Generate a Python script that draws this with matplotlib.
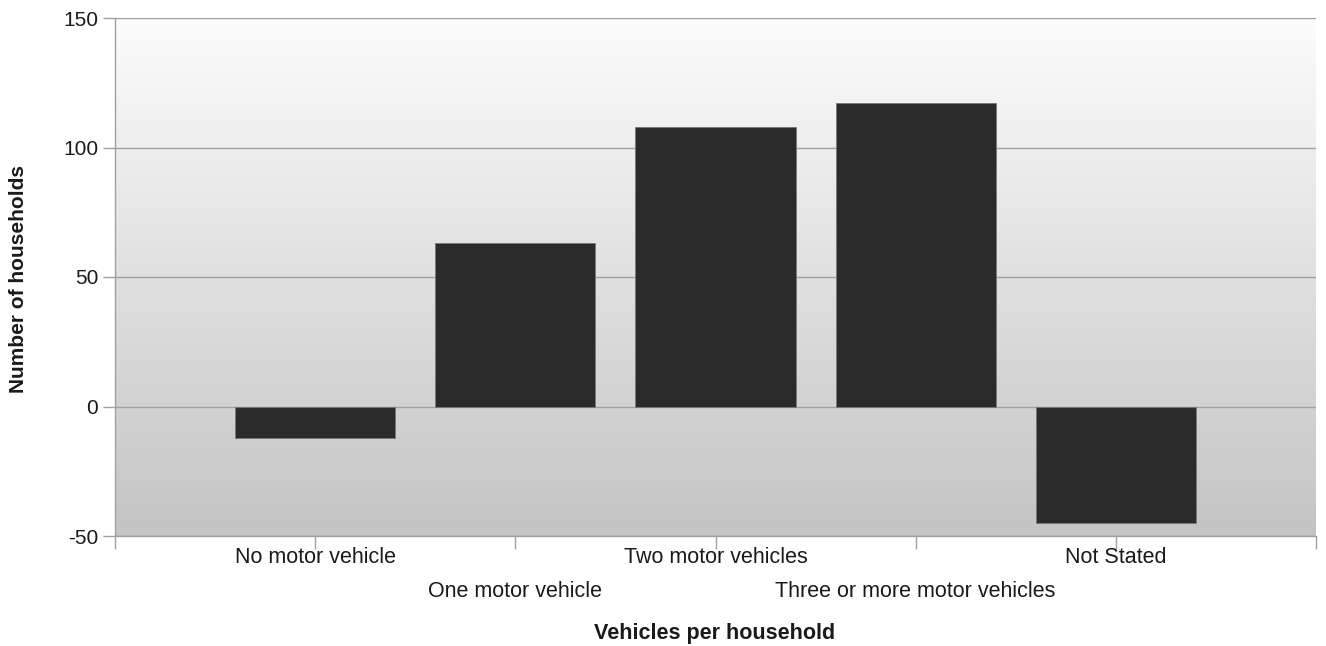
import numpy as np
import matplotlib.pyplot as plt

plt.rcParams['font.family'] = ['Liberation Sans', 'DejaVu Sans']
plt.rcParams['axes.unicode_minus'] = False

# data
categories = ['No motor vehicle', 'One motor vehicle', 'Two motor vehicles',
              'Three or more motor vehicles', 'Not Stated']
households = [-12, 63, 108, 117, -45]

fig = plt.figure(figsize=(13.26, 6.46), dpi=100)
ax = fig.add_axes([115 / 1326, 1 - 536 / 646, 1201 / 1326, 518 / 646])

# gradient background
grad = np.linspace(0, 1, 256).reshape(-1, 1)
ax.imshow(grad, extent=[0, 1, 0, 1], transform=ax.transAxes, aspect='auto',
          cmap=plt.matplotlib.colors.LinearSegmentedColormap.from_list(
              'bg', ['#c4c4c4', '#fcfcfc']),
          origin='lower', zorder=0)

x = np.arange(1, len(categories) + 1)
ax.bar(x, households, width=0.8, color='#2b2b2b', edgecolor='#777777',
       linewidth=0.6, zorder=3)

ax.set_xlim(0, 6)
ax.set_ylim(-50, 150)
ax.set_yticks([-50, 0, 50, 100, 150])
ax.yaxis.grid(True, color='#a0a0a0', linewidth=1, zorder=1)
ax.set_axisbelow(True)

ax.set_xticks(np.arange(0, 7))
ax.set_xticklabels([])
for i, (xi, lab) in enumerate(zip(x, categories)):
    off = -0.041 if i % 2 == 0 else -0.107
    ax.text(xi, off, lab, transform=ax.get_xaxis_transform(), ha='center',
            va='center', fontsize=15.5, color='#1a1a1a')

ax.tick_params(axis='both', color='#a0a0a0', length=9, width=1,
               labelsize=15, labelcolor='#1a1a1a')
ax.tick_params(axis='y', pad=3)

for s in ['top', 'right']:
    ax.spines[s].set_visible(False)
for s in ['left', 'bottom']:
    ax.spines[s].set_color('#a0a0a0')
    ax.spines[s].set_linewidth(1)

fig.text(715 / 1326, 1 - 633 / 646, 'Vehicles per household', ha='center',
         va='center', fontsize=15.5, fontweight='bold', color='#1a1a1a')
fig.text(19 / 1326, 1 - 279 / 646, 'Number of households', ha='center',
         va='center', rotation=90, fontsize=15, fontweight='bold', color='#1a1a1a')

fig.savefig('out.png', dpi=100)
